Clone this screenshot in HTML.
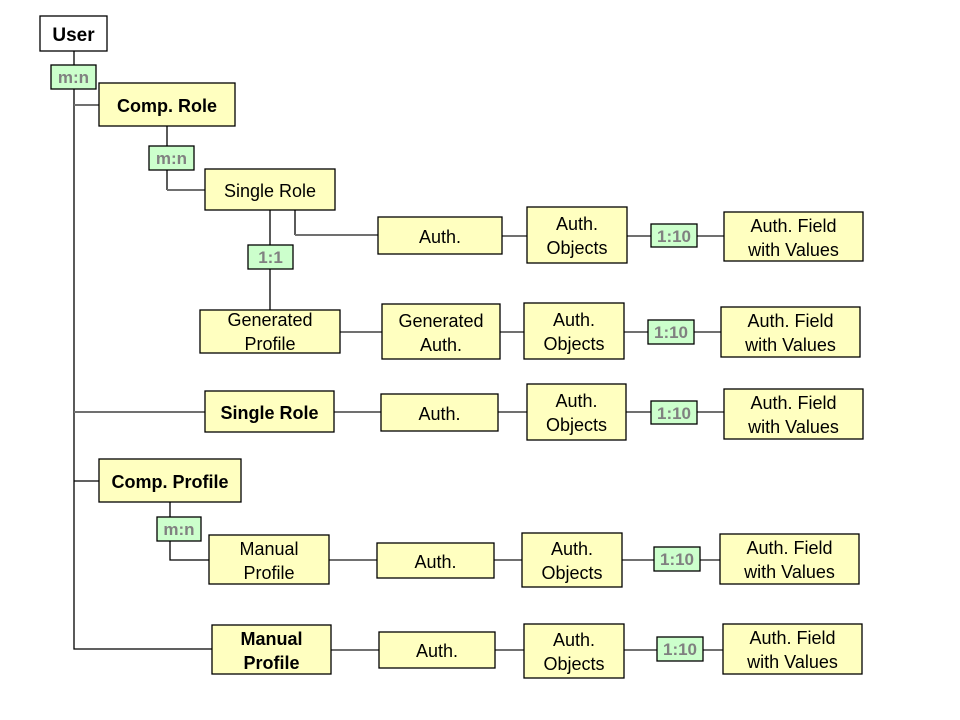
<!DOCTYPE html>
<html><head><meta charset="utf-8"><style>
html,body{margin:0;padding:0;background:#fff}
svg{display:block}
text{font-family:"Liberation Sans",Arial,sans-serif;font-size:18px;fill:#000;text-anchor:middle}
.b{font-weight:bold}
.g{font-weight:bold;fill:#808080;font-size:17px}
.y{fill:#ffffc0;stroke:#000;stroke-width:1.3}
.gr{fill:#ccffcc;stroke:#000;stroke-width:1.3}
.l{stroke:#000;stroke-width:1.3;fill:none}
.lg{stroke:#707070;stroke-width:2;fill:none}
</style></head><body>
<svg width="960" height="720" viewBox="0 0 960 720">
<!-- lines -->
<path class="l" d="M74 51V649H212"/>
<path class="lg" d="M74 105H99"/>
<path class="lg" d="M74 412H205"/>
<path class="l" d="M74 481H99"/>
<path class="l" d="M167 126V190"/><path class="lg" d="M167 190H205"/>
<path class="l" d="M270 210V310"/>
<path class="l" d="M295 210V235"/><path class="lg" d="M295 235H378"/>
<path class="l" d="M170 502V560H209"/>
<path class="lg" d="M502 236H527M627 236H724"/>
<path class="lg" d="M340 332H382M500 332H524M624 332H721"/>
<path class="lg" d="M334 412H381M498 412H527M626 412H724"/>
<path class="lg" d="M329 560H377M494 560H522M622 560H720"/>
<path class="lg" d="M331 650H379M495 650H524M624 650H723"/>
<!-- boxes -->
<rect x="40" y="16" width="67" height="35" fill="#fff" stroke="#000" stroke-width="1.3"/>
<text x="73.5" y="41" class="b" style="font-size:19px">User</text>
<rect class="gr" x="51" y="65" width="45" height="24"/><text class="g" x="73.5" y="83">m:n</text>
<rect class="y" x="99" y="83" width="136" height="43"/><text class="b" x="167" y="112">Comp. Role</text>
<rect class="gr" x="149" y="146" width="45" height="24"/><text class="g" x="171.5" y="164">m:n</text>
<rect class="y" x="205" y="169" width="130" height="41"/><text x="270" y="197">Single Role</text>
<rect class="gr" x="248" y="245" width="45" height="24"/><text class="g" x="270.5" y="263">1:1</text>

<rect class="y" x="378" y="217" width="124" height="37"/><text x="440" y="243">Auth.</text>
<rect class="y" x="527" y="207" width="100" height="56"/><text x="577" y="230">Auth.</text><text x="577" y="254">Objects</text>
<rect class="gr" x="651" y="224" width="46" height="23"/><text class="g" x="674" y="242">1:10</text>
<rect class="y" x="724" y="212" width="139" height="49"/><text x="793.5" y="232">Auth.  Field</text><text x="793.5" y="256">with Values</text>

<rect class="y" x="200" y="310" width="140" height="43"/><text x="270" y="326">Generated</text><text x="270" y="350">Profile</text>
<rect class="y" x="382" y="304" width="118" height="55"/><text x="441" y="327">Generated</text><text x="441" y="351">Auth.</text>
<rect class="y" x="524" y="303" width="100" height="56"/><text x="574" y="326">Auth.</text><text x="574" y="350">Objects</text>
<rect class="gr" x="648" y="320" width="46" height="24"/><text class="g" x="671" y="338">1:10</text>
<rect class="y" x="721" y="307" width="139" height="50"/><text x="790.5" y="327">Auth.  Field</text><text x="790.5" y="351">with Values</text>

<rect class="y" x="205" y="391" width="129" height="41"/><text class="b" x="269.5" y="419">Single Role</text>
<rect class="y" x="381" y="394" width="117" height="37"/><text x="439.5" y="420">Auth.</text>
<rect class="y" x="527" y="384" width="99" height="56"/><text x="576.5" y="407">Auth.</text><text x="576.5" y="431">Objects</text>
<rect class="gr" x="651" y="401" width="46" height="23"/><text class="g" x="674" y="419">1:10</text>
<rect class="y" x="724" y="389" width="139" height="50"/><text x="793.5" y="409">Auth.  Field</text><text x="793.5" y="433">with Values</text>

<rect class="y" x="99" y="459" width="142" height="43"/><text class="b" x="170" y="488">Comp. Profile</text>
<rect class="gr" x="157" y="517" width="44" height="24"/><text class="g" x="179" y="535">m:n</text>

<rect class="y" x="209" y="535" width="120" height="49"/><text x="269" y="555">Manual</text><text x="269" y="579">Profile</text>
<rect class="y" x="377" y="543" width="117" height="35"/><text x="435.5" y="568">Auth.</text>
<rect class="y" x="522" y="533" width="100" height="54"/><text x="572" y="555">Auth.</text><text x="572" y="579">Objects</text>
<rect class="gr" x="654" y="547" width="46" height="24"/><text class="g" x="677" y="565">1:10</text>
<rect class="y" x="720" y="534" width="139" height="50"/><text x="789.5" y="554">Auth.  Field</text><text x="789.5" y="578">with Values</text>

<rect class="y" x="212" y="625" width="119" height="49"/><text class="b" x="271.5" y="645">Manual</text><text class="b" x="271.5" y="669">Profile</text>
<rect class="y" x="379" y="632" width="116" height="36"/><text x="437" y="657">Auth.</text>
<rect class="y" x="524" y="624" width="100" height="54"/><text x="574" y="646">Auth.</text><text x="574" y="670">Objects</text>
<rect class="gr" x="657" y="637" width="46" height="24"/><text class="g" x="680" y="655">1:10</text>
<rect class="y" x="723" y="624" width="139" height="50"/><text x="792.5" y="644">Auth.  Field</text><text x="792.5" y="668">with Values</text>
</svg>
</body></html>
